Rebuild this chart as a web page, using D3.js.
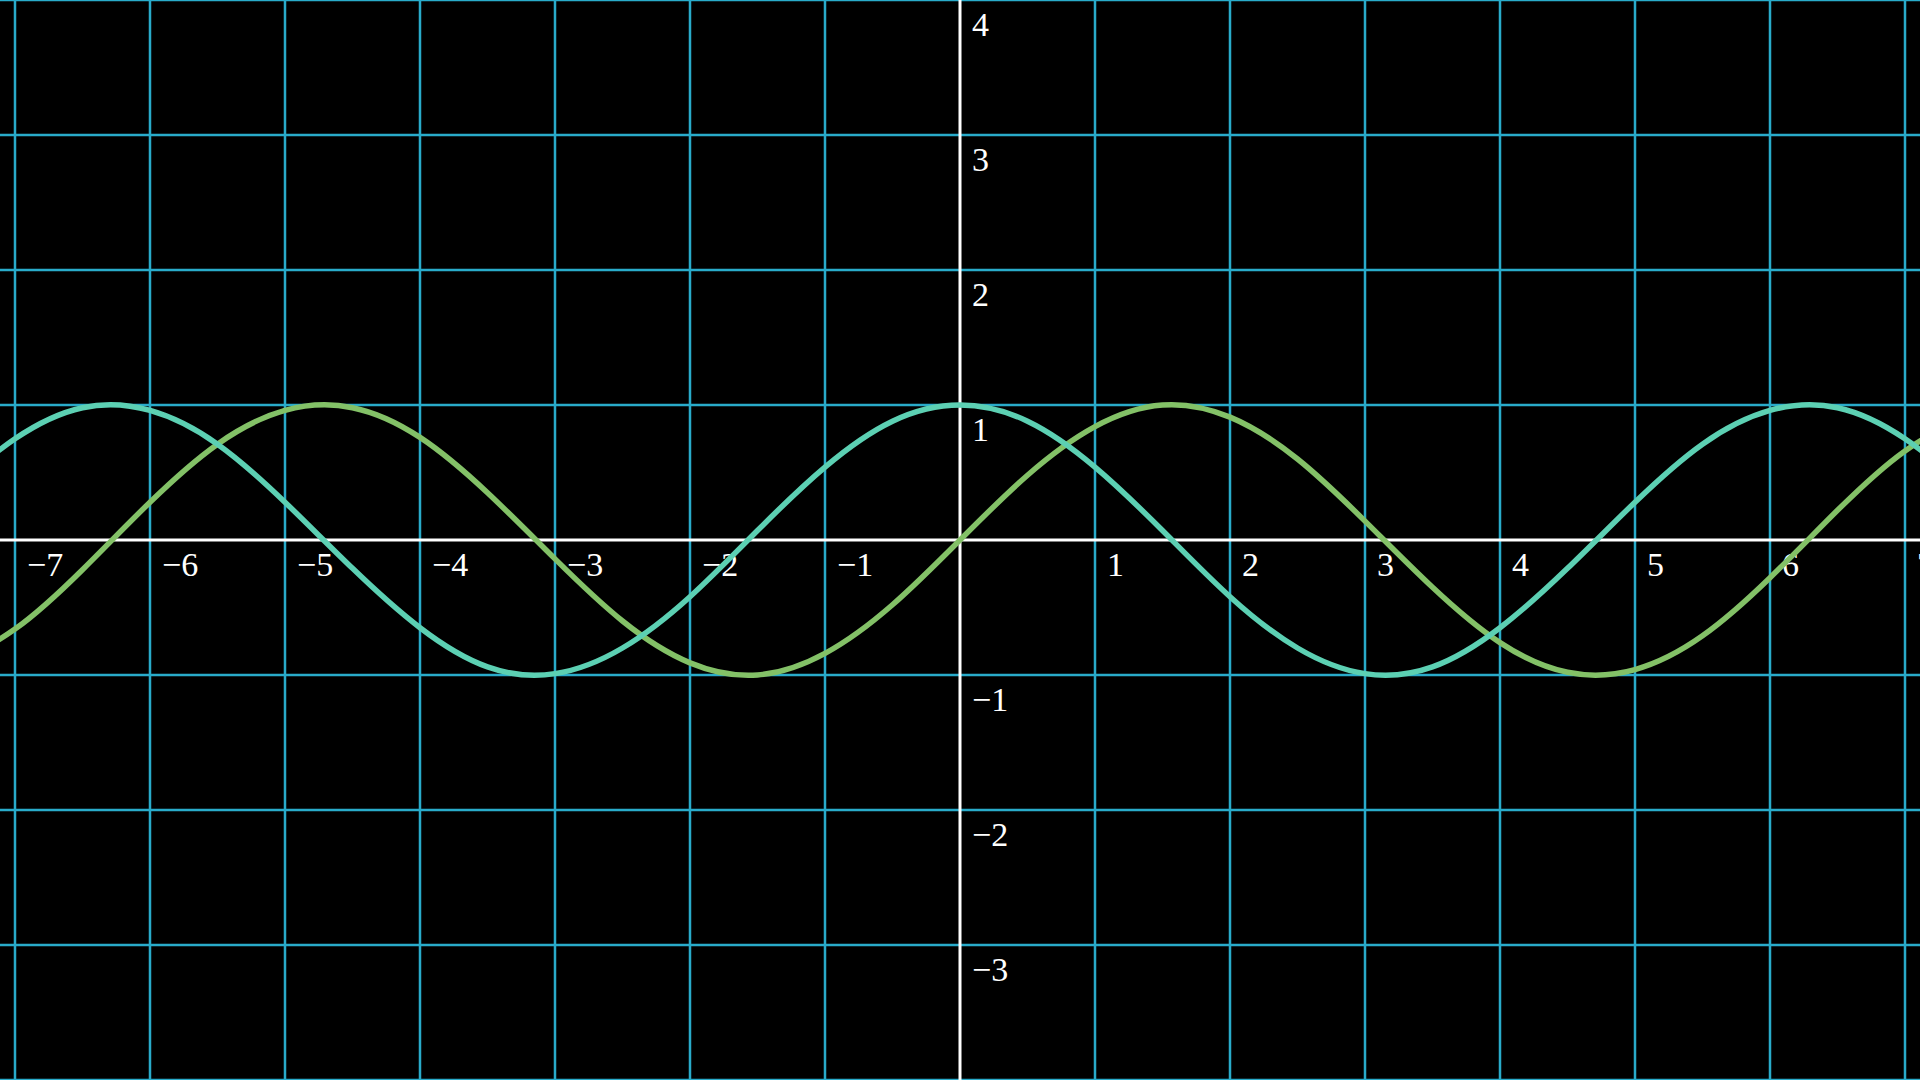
<!DOCTYPE html>
<html>
<head>
<meta charset="utf-8">
<script src="https://cdn.jsdelivr.net/npm/d3@7"></script>
<style>
  html, body { margin: 0; padding: 0; background: #000; overflow: hidden; }
  svg { display: block; }
</style>
</head>
<body>
<svg id="chart" width="1920" height="1080"></svg>
<script>
// ---- data ----
const xTicks = [-7, -6, -5, -4, -3, -2, -1, 0, 1, 2, 3, 4, 5, 6, 7];
const yTicks = [-4, -3, -2, -1, 0, 1, 2, 3, 4];
const xLabels = ["−7", "−6", "−5", "−4", "−3", "−2", "−1", "", "1", "2", "3", "4", "5", "6", "7"];
const yLabels = ["", "−3", "−2", "−1", "", "1", "2", "3", "4"];

const sampleX = [-7.5, -7, -6.5, -6, -5.5, -5, -4.5, -4, -3.5, -3, -2.5, -2, -1.5, -1, -0.5, 0,
                 0.5, 1, 1.5, 2, 2.5, 3, 3.5, 4, 4.5, 5, 5.5, 6, 6.5, 7, 7.5];
const sinValues = [-0.94, -0.66, -0.22, 0.28, 0.71, 0.96, 0.98, 0.76, 0.35, -0.14, -0.60, -0.91, -1.00, -0.84, -0.48, 0.00,
                   0.48, 0.84, 1.00, 0.91, 0.60, 0.14, -0.35, -0.76, -0.98, -0.96, -0.71, -0.28, 0.22, 0.66, 0.94];
const cosValues = [0.35, 0.75, 0.98, 0.96, 0.71, 0.28, -0.21, -0.65, -0.94, -0.99, -0.80, -0.42, 0.07, 0.54, 0.88, 1.00,
                   0.88, 0.54, 0.07, -0.42, -0.80, -0.99, -0.94, -0.65, -0.21, 0.28, 0.71, 0.96, 0.98, 0.75, 0.35];

// ---- layout ----
const W = 1920, H = 1080;
const unitsX = 7.1111, unitsY = 4;
const svg = d3.select("#chart");
svg.append("rect").attr("width", W).attr("height", H).attr("fill", "#000");

const x = d3.scaleLinear().domain([-unitsX, unitsX]).range([0, W]);
const y = d3.scaleLinear().domain([unitsY, -unitsY]).range([0, H]);

const gridColor = "#29ABCA";

// grid lines
const grid = svg.append("g");
grid.selectAll("line.v").data(xTicks.filter(d => d !== 0)).join("line")
  .attr("x1", d => x(d)).attr("x2", d => x(d))
  .attr("y1", 0).attr("y2", H)
  .attr("stroke", gridColor).attr("stroke-width", 2.5);
grid.selectAll("line.h").data(yTicks.filter(d => d !== 0)).join("line")
  .attr("y1", d => y(d)).attr("y2", d => y(d))
  .attr("x1", 0).attr("x2", W)
  .attr("stroke", gridColor).attr("stroke-width", 2.5);

// axes
svg.append("line").attr("x1", 0).attr("x2", W).attr("y1", y(0)).attr("y2", y(0))
  .attr("stroke", "#fff").attr("stroke-width", 3);
svg.append("line").attr("x1", x(0)).attr("x2", x(0)).attr("y1", 0).attr("y2", H)
  .attr("stroke", "#fff").attr("stroke-width", 3);

// labels
const font = "'Liberation Serif', 'DejaVu Serif', serif";
const labels = svg.append("g").attr("fill", "#fff").attr("font-family", font).attr("font-size", 34);
labels.selectAll("text.x").data(xTicks.map((d, i) => ({v: d, t: xLabels[i]})).filter(d => d.t)).join("text")
  .attr("x", d => x(d.v) + 12).attr("y", y(0) + 36).text(d => d.t);
labels.selectAll("text.y").data(yTicks.map((d, i) => ({v: d, t: yLabels[i]})).filter(d => d.t)).join("text")
  .attr("x", x(0) + 12).attr("y", d => y(d.v) + 36).text(d => d.t);

// curves
const line = d3.line().x(d => x(d[0])).y(d => y(d[1])).curve(d3.curveNatural);
svg.append("path").datum(sampleX.map((v, i) => [v, sinValues[i]]))
  .attr("d", line).attr("fill", "none").attr("stroke", "#83C167").attr("stroke-width", 5.5);
svg.append("path").datum(sampleX.map((v, i) => [v, cosValues[i]]))
  .attr("d", line).attr("fill", "none").attr("stroke", "#5CD0B3").attr("stroke-width", 5.5);
</script>
</body>
</html>
